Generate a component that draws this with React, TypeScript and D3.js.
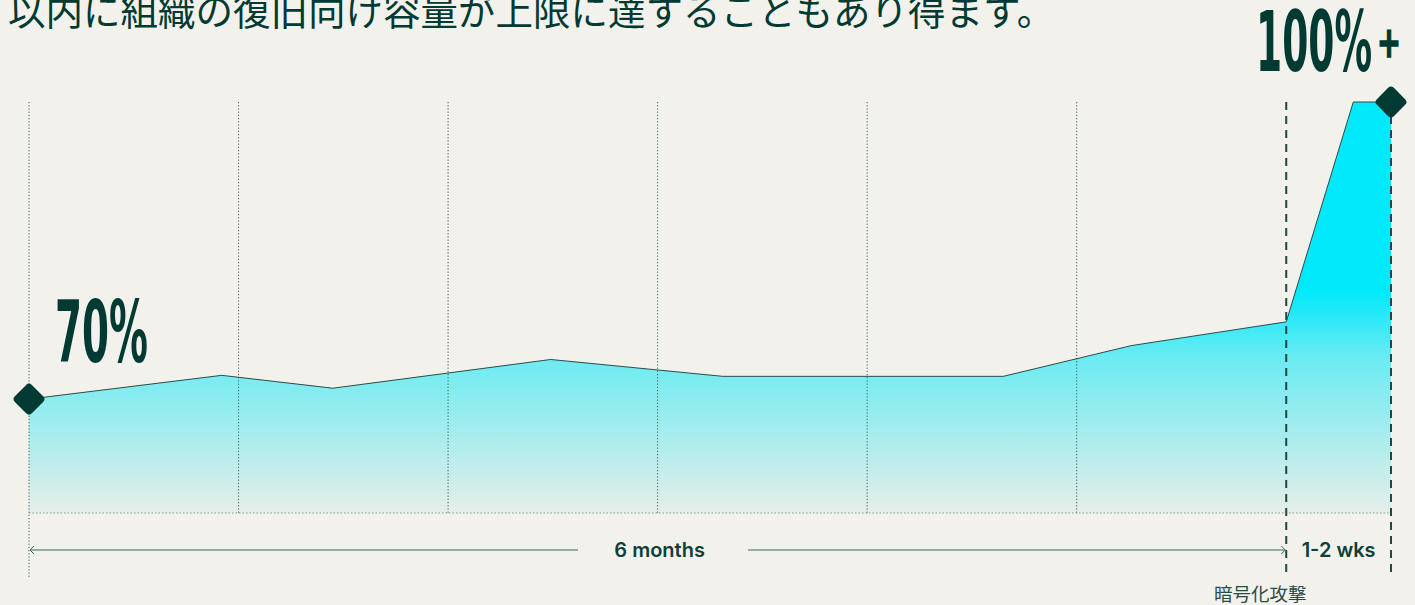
import React from "react";
import * as d3 from "d3";

// months from start (0..6 = 6 months, 6.5 = +1-2 wks)
const monthsX = [0, 0.92, 1.45, 2.49, 3.31, 4.65, 5.26, 6.0, 6.32, 6.5];
const capacity = [70, 72.4, 71.1, 74.0, 72.3, 72.3, 75.4, 77.8, 100, 100];
const gridMonths = [0, 1, 2, 3, 4, 5];
const phaseMarks = [6, 6.5];
const title = "以内に組織の復旧向け容量が上限に達することもあり得ます。";
const startLabel = "70%";
const endLabel = "100%";
const endSuffix = "+";
const spanLabels = ["6 months", "1-2 wks"];
const eventLabel = "暗号化攻撃";

const W = 1415;
const H = 605;
const DARK = "#003a32";

export default function App() {
  const x = d3.scaleLinear().domain([0, 6.5]).range([29, 1391]);
  const y = d3.scaleLinear().domain([58.5, 100]).range([513, 102]);
  const pts = monthsX.map((m, i) => [m, capacity[i]] as [number, number]);
  const area = d3
    .area<[number, number]>()
    .x((d) => x(d[0]))
    .y0(y(58.5))
    .y1((d) => y(d[1]))(pts) as string;
  const line = d3
    .line<[number, number]>()
    .x((d) => x(d[0]))
    .y((d) => y(d[1]))(pts) as string;
  const top = y(100);
  const base = y(58.5);
  const arrowY = 550;
  const diamond = (cx: number, cy: number, k: string) => (
    <rect
      key={k}
      x={cx - 12}
      y={cy - 12}
      width={24}
      height={24}
      rx={4}
      fill={DARK}
      transform={`rotate(45 ${cx} ${cy})`}
    />
  );
  const sx = x(0);
  const s6 = x(6);
  const e = x(6.5);
  return (
    <svg
      width={W}
      height={H}
      style={{ position: "absolute", left: 0, top: 0, background: "#f2f1eb" }}
    >
      <defs>
        <linearGradient id="fillG" gradientUnits="userSpaceOnUse" x1="0" y1={top} x2="0" y2={base}>
          <stop offset="0" stopColor="#00e9fb" />
          <stop offset="0.46" stopColor="#00e9fb" />
          <stop offset="0.62" stopColor="#6aebf2" />
          <stop offset="1" stopColor="#e6eee9" />
        </linearGradient>
      </defs>
      <rect x={0} y={0} width={W} height={H} fill="#f2f1eb" />
      <text
        x={8}
        y={25}
        fontFamily="'Noto Sans CJK JP', sans-serif"
        fontSize={37.5}
        fill={DARK}
      >
        {title}
      </text>
      <path d={area} fill="url(#fillG)" />
      {gridMonths.map((m) => (
        <line
          key={m}
          x1={x(m)}
          x2={x(m)}
          y1={top}
          y2={m === 0 ? 578 : base}
          stroke="#3f5a54"
          strokeWidth={1}
          strokeDasharray="1.2,2"
        />
      ))}
      <line x1={sx} x2={e} y1={base} y2={base} stroke="#7f9c95" strokeWidth={1} strokeDasharray="1.5,2" />
      {phaseMarks.map((m) => (
        <line
          key={m}
          x1={x(m)}
          x2={x(m)}
          y1={top}
          y2={578}
          stroke="#1a4a42"
          strokeWidth={2}
          strokeDasharray="8,6"
        />
      ))}
      <path d={line} fill="none" stroke="#2d4b45" strokeWidth={1} />
      {diamond(x(monthsX[0]), y(capacity[0]), "d0")}
      {diamond(x(monthsX[monthsX.length - 1]), y(capacity[capacity.length - 1]), "d1")}
      <text
        x={55}
        y={362}
        fontFamily="'Liberation Sans Narrow', 'DejaVu Sans Condensed', sans-serif"
        fontWeight={700}
        fontSize={86}
        fill={DARK}
        textLength={93}
        lengthAdjust="spacingAndGlyphs"
      >
        {startLabel}
      </text>
      <text
        x={1256}
        y={71}
        fontFamily="'Liberation Sans Narrow', 'DejaVu Sans Condensed', sans-serif"
        fontWeight={700}
        fontSize={83}
        fill={DARK}
        textLength={116}
        lengthAdjust="spacingAndGlyphs"
      >
        {endLabel}
      </text>
      <text
        x={1377}
        y={57}
        fontFamily="'DejaVu Sans', sans-serif"
        fontWeight={700}
        fontSize={42}
        fill={DARK}
        stroke={DARK}
        strokeWidth={1.5}
        textLength={24}
        lengthAdjust="spacingAndGlyphs"
      >
        {endSuffix}
      </text>
      {/* 6 months arrow */}
      <line x1={sx + 1} x2={578} y1={arrowY} y2={arrowY} stroke="#3a6a61" strokeWidth={1.2} />
      <line x1={748} x2={s6 - 1} y1={arrowY} y2={arrowY} stroke="#3a6a61" strokeWidth={1.2} />
      <path d={`M${sx + 5},${arrowY - 4} L${sx + 1},${arrowY} L${sx + 5},${arrowY + 4}`} fill="none" stroke="#3a6a61" strokeWidth={1} />
      <path d={`M${s6 - 5},${arrowY - 4} L${s6 - 1},${arrowY} L${s6 - 5},${arrowY + 4}`} fill="none" stroke="#3a6a61" strokeWidth={1} />
      <text
        x={(sx + s6) / 2 + 2}
        y={arrowY + 7}
        textAnchor="middle"
        fontFamily="Inter, sans-serif"
        fontWeight={600}
        fontSize={20}
        fill="#0d3f37"
      >
        {spanLabels[0]}
      </text>
      <text
        x={(s6 + e) / 2}
        y={arrowY + 7}
        textAnchor="middle"
        fontFamily="Inter, sans-serif"
        fontWeight={600}
        fontSize={20}
        fill="#0d3f37"
      >
        {spanLabels[1]}
      </text>
      <text
        x={s6 - 26}
        y={601}
        textAnchor="middle"
        fontFamily="'Noto Sans CJK JP', sans-serif"
        fontSize={18.5}
        fill="#2a4a44"
      >
        {eventLabel}
      </text>
    </svg>
  );
}
